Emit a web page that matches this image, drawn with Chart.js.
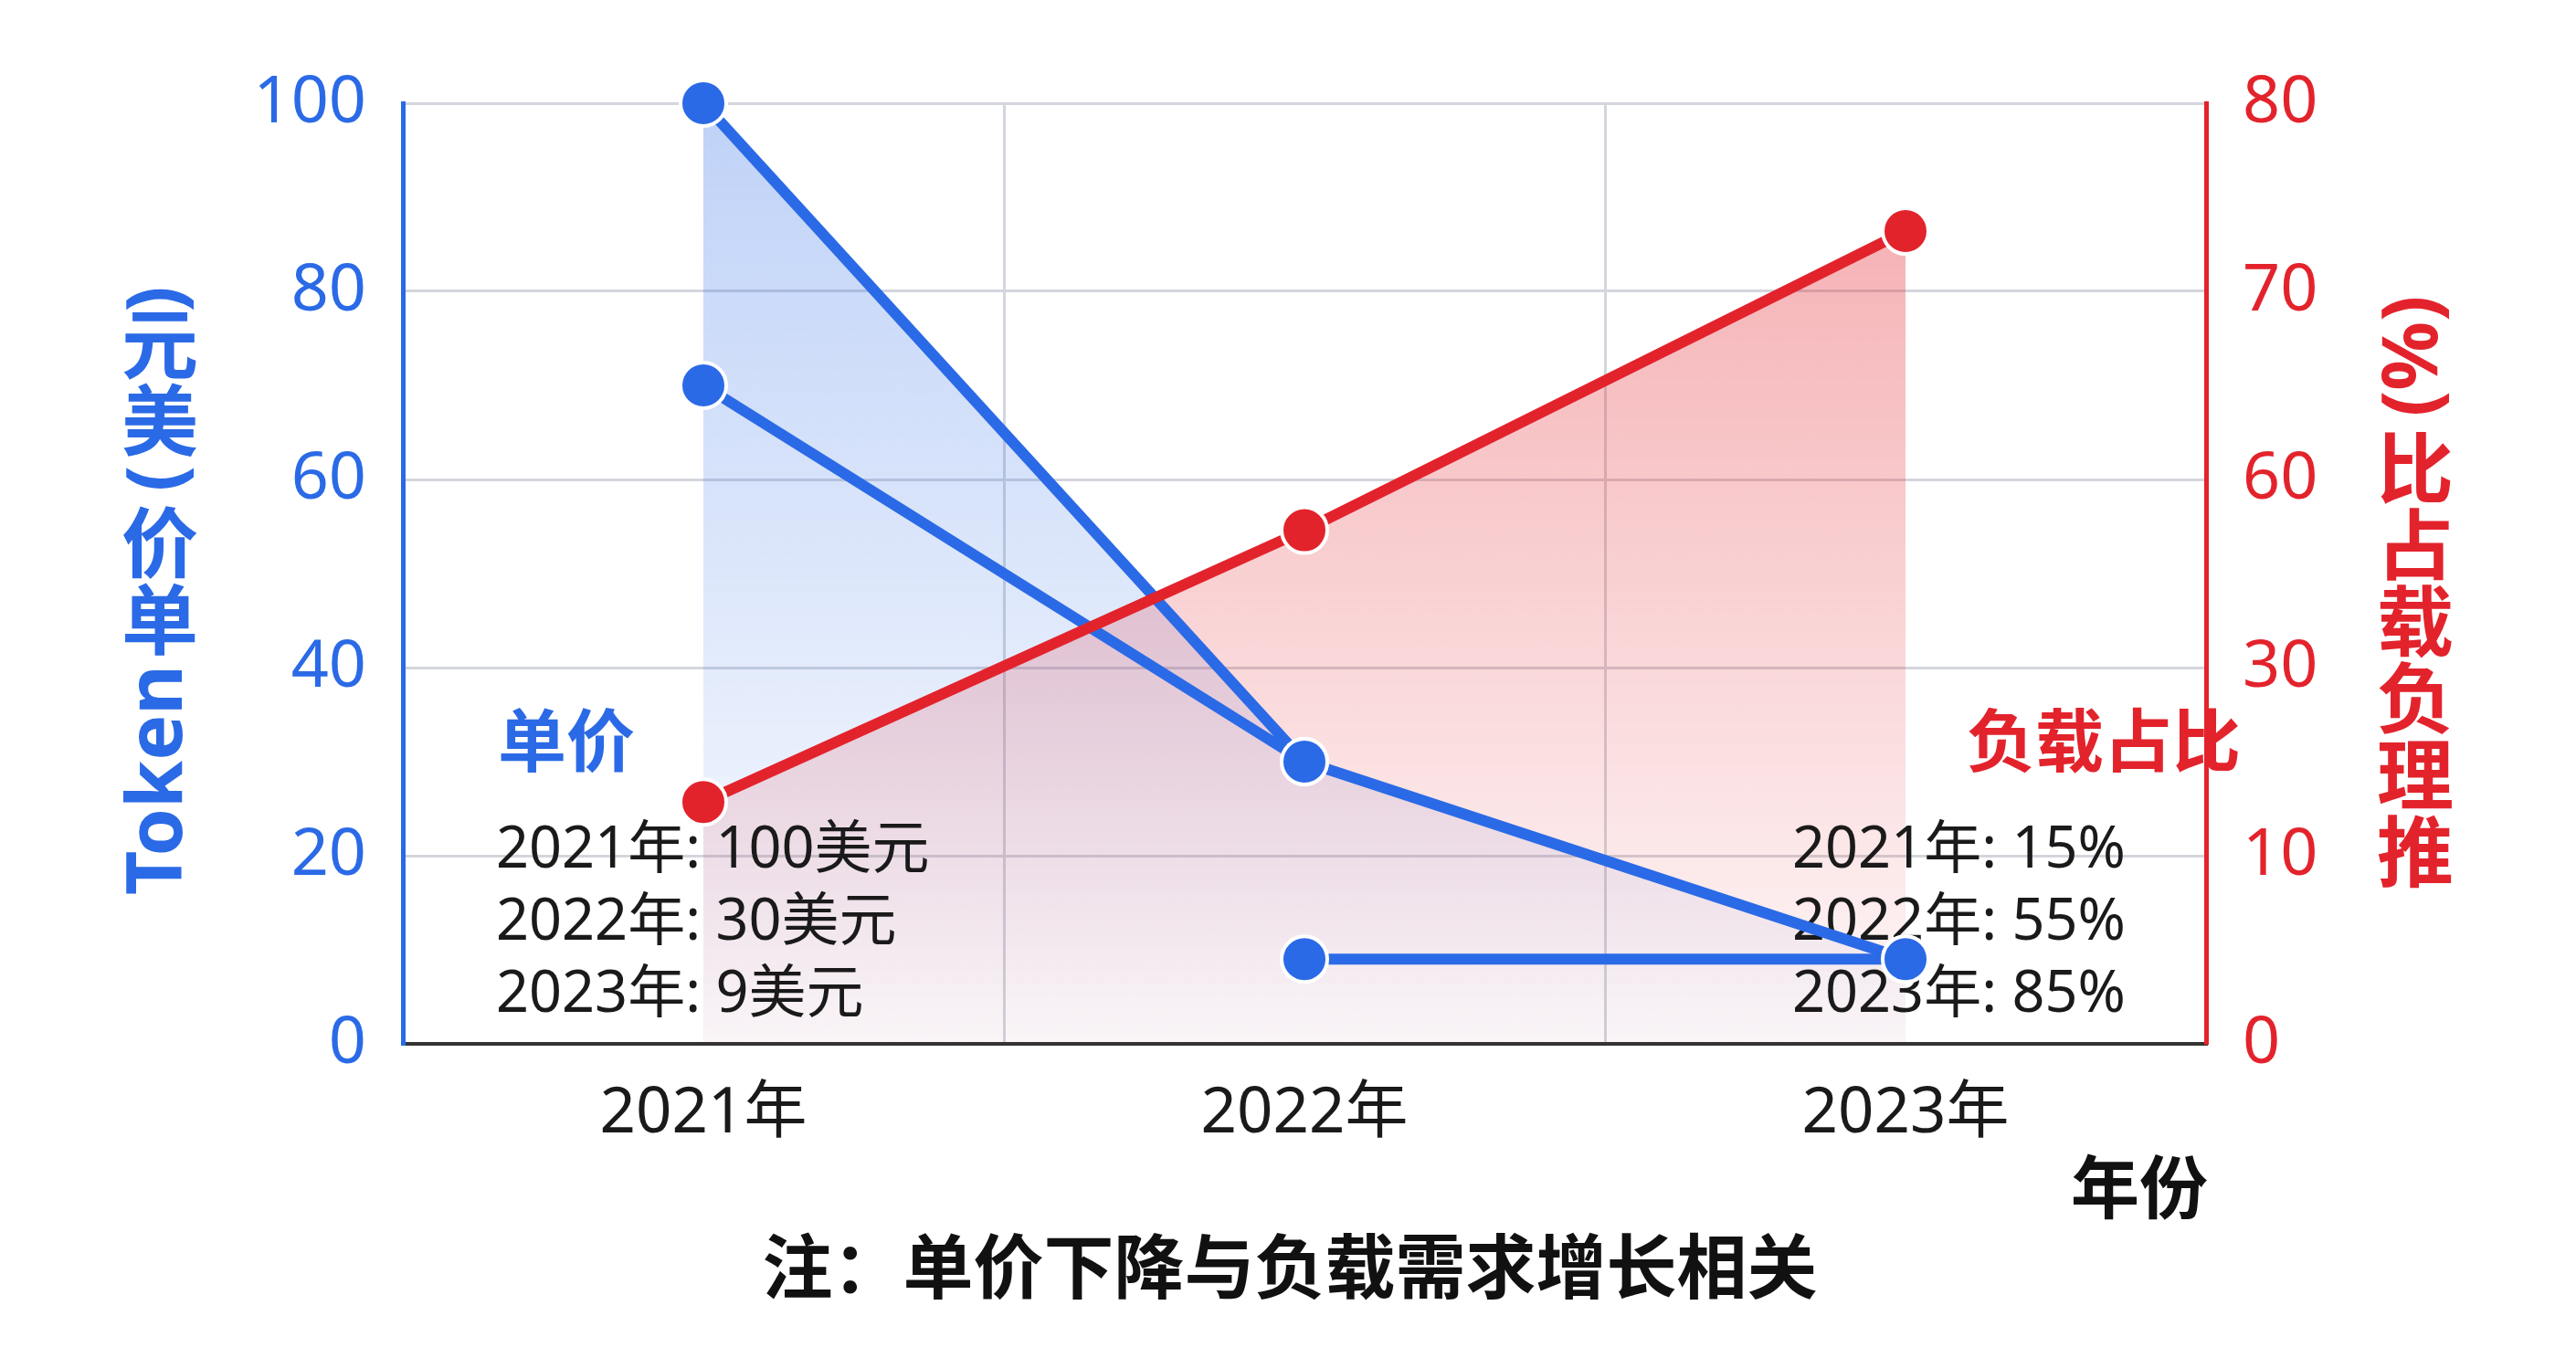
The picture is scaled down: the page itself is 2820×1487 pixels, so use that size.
<!DOCTYPE html>
<html>
<head>
<meta charset="utf-8">
<script src="https://cdn.jsdelivr.net/npm/chart.js@4.4.1/dist/chart.umd.min.js"></script>
<style>
  html, body { margin: 0; padding: 0; background: #ffffff; }
  #wrap { width: 2820px; height: 1487px; }
</style>
</head>
<body>
<div id="wrap"><canvas id="chart" width="2820" height="1487"></canvas></div>
<script>
// categories
const years = ['2021年', '2022年', '2023年'];

// blue series (left axis, 美元)
const priceMain = [100, 30, 9];
const priceBranch = [70, 30, null];
const priceLow = [null, 9, 9];

// red series, plotted against the right axis (0-100 scale, relabelled)
const loadShareOnAxis = [25.7, 54.6, 86.4];

// tick labels
const priceTicks = ['0', '20', '40', '60', '80', '100'];
const loadTicks = ['0', '10', '30', '60', '70', '80'];

// texts
const leftTitle = 'Token单价 (美元)';
const rightTitle = '推理负载占比 (%)';
const xTitle = '年份';
const noteText = '注：单价下降与负载需求增长相关';
const priceNoteHead = '单价';
const priceNoteLines = ['2021年: 100美元', '2022年: 30美元', '2023年: 9美元'];
const loadNoteHead = '负载占比';
const loadNoteLines = ['2021年: 15%', '2022年: 55%', '2023年: 85%'];

const BLUE = '#2b6ae6';
const RED = '#e3232c';
const FONT = '"Noto Sans", "Noto Sans CJK SC", sans-serif';

const blueFill = (ctx) => {
  const area = ctx.chart.chartArea;
  if (!area) return 'rgba(43,106,230,0.2)';
  const g = ctx.chart.ctx.createLinearGradient(0, area.top, 0, area.bottom);
  g.addColorStop(0, 'rgba(43,106,230,0.30)');
  g.addColorStop(1, 'rgba(43,106,230,0.02)');
  return g;
};
const redFill = (ctx) => {
  const area = ctx.chart.chartArea;
  if (!area) return 'rgba(227,35,44,0.2)';
  const g = ctx.chart.ctx.createLinearGradient(0, area.top + 130, 0, area.bottom);
  g.addColorStop(0, 'rgba(227,35,44,0.35)');
  g.addColorStop(1, 'rgba(227,35,44,0.03)');
  return g;
};

// vertical text, bottom to top, CJK upright, latin rotated
function drawVerticalUp(ctx, text, x, yBottom, size, color) {
  ctx.save();
  ctx.fillStyle = color;
  ctx.font = 'bold ' + size + 'px ' + FONT;
  ctx.textBaseline = 'middle';
  ctx.textAlign = 'center';
  let y = yBottom;
  let run = '';
  const flush = () => {
    if (!run) return;
    const w = ctx.measureText(run).width;
    ctx.save();
    ctx.translate(x, y - w / 2);
    ctx.rotate(-Math.PI / 2);
    ctx.fillText(run, 0, 0);
    ctx.restore();
    y -= w;
    run = '';
  };
  for (const ch of text) {
    if (/[\u3400-\u9fff]/.test(ch)) {
      flush();
      ctx.fillText(ch, x, y - size / 2);
      y -= size;
    } else {
      run += ch;
    }
  }
  flush();
  ctx.restore();
}

const textPlugin = {
  id: 'texts',
  beforeDatasetsDraw(chart) {
    const ctx = chart.ctx;
    ctx.save();
    ctx.textBaseline = 'middle';
    ctx.textAlign = 'left';
    ctx.font = 'bold 75px ' + FONT;
    ctx.fillStyle = BLUE;
    ctx.fillText(priceNoteHead, 545, 818);
    ctx.fillStyle = RED;
    ctx.fillText(loadNoteHead, 2153, 818);
    ctx.font = '63px ' + FONT;
    ctx.fillStyle = '#1a1a1a';
    priceNoteLines.forEach((t, i) => ctx.fillText(t, 543, 932 + i * 79));
    loadNoteLines.forEach((t, i) => ctx.fillText(t, 1962, 932 + i * 79));
    ctx.restore();
  },
  afterDraw(chart) {
    const ctx = chart.ctx;
    drawVerticalUp(ctx, leftTitle, 175, 980, 84, BLUE);
    drawVerticalUp(ctx, rightTitle, 2644, 982, 84, RED);
    ctx.save();
    ctx.fillStyle = '#111111';
    ctx.textBaseline = 'middle';
    ctx.font = 'bold 75px ' + FONT;
    ctx.textAlign = 'right';
    ctx.fillText(xTitle, 2417, 1307);
    ctx.textAlign = 'center';
    ctx.font = 'bold 77px ' + FONT;
    ctx.fillText(noteText, 1412, 1394);
    ctx.restore();
  }
};

const pointStyle = (color) => ({
  borderColor: color,
  backgroundColor: color,
  pointBackgroundColor: color,
  pointBorderColor: '#ffffff',
  pointBorderWidth: 4,
  pointRadius: 25,
  pointHoverRadius: 25,
  borderWidth: 12,
  tension: 0,
  clip: false
});

new Chart(document.getElementById('chart'), {
  type: 'line',
  data: {
    labels: years,
    datasets: [
      Object.assign({ label: 'load', data: loadShareOnAxis, yAxisID: 'y2', fill: 'origin' }, pointStyle(RED), { backgroundColor: redFill }),
      Object.assign({ label: 'priceLow', data: priceLow, yAxisID: 'y', fill: false }, pointStyle(BLUE)),
      Object.assign({ label: 'priceBranch', data: priceBranch, yAxisID: 'y', fill: false }, pointStyle(BLUE)),
      Object.assign({ label: 'price', data: priceMain, yAxisID: 'y', fill: 'origin' }, pointStyle(BLUE), { backgroundColor: blueFill })
    ]
  },
  options: {
    responsive: false,
    animation: false,
    layout: { padding: { left: 0, right: 0, top: 113, bottom: 0 } },
    plugins: {
      legend: { display: false },
      tooltip: { enabled: false },
      title: { display: false },
      filler: { drawTime: 'beforeDatasetsDraw' }
    },
    scales: {
      x: {
        offset: true,
        grid: { offset: true, color: '#d3d6dc', lineWidth: 3, drawTicks: false },
        border: { color: '#333333', width: 4 },
        ticks: { color: '#1a1a1a', font: { size: 69, family: FONT }, padding: 36 },
        afterFit: (s) => { s.height = 344; }
      },
      y: {
        position: 'left',
        min: 0, max: 100,
        grid: { color: '#d3d6dc', lineWidth: 3, drawTicks: false },
        border: { color: BLUE, width: 5 },
        ticks: { stepSize: 20, color: BLUE, font: { size: 72, family: FONT }, padding: 40,
                 callback: (v, i) => priceTicks[i] },
        afterFit: (s) => { s.width = 441; }
      },
      y2: {
        position: 'right',
        min: 0, max: 100,
        grid: { display: false, drawTicks: false },
        border: { color: RED, width: 5 },
        ticks: { stepSize: 20, color: RED, font: { size: 72, family: FONT }, padding: 40,
                 callback: (v, i) => loadTicks[i] },
        afterFit: (s) => { s.width = 405; }
      }
    }
  },
  plugins: [textPlugin]
});
</script>
</body>
</html>
